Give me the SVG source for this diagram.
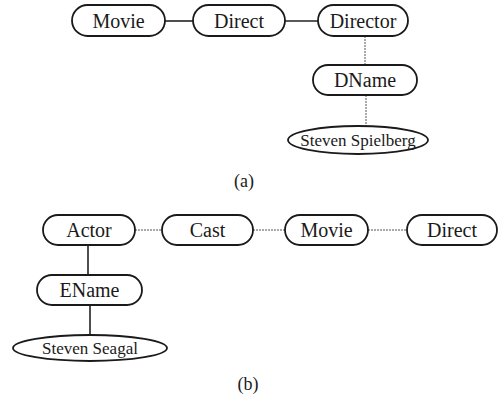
<svg xmlns="http://www.w3.org/2000/svg" width="500" height="395" viewBox="0 0 500 395">
  <style>
    .box { fill: #ffffff; stroke: #1a1a1a; stroke-width: 1.8; }
    text { font-family: 'Liberation Serif', 'Times New Roman', Times, serif; fill: #1a1a1a; text-anchor: middle; }
    .lbl { font-size: 20px; }
    .val { font-size: 17px; }
    .cap { font-size: 18px; }
    .solid { stroke: #222222; stroke-width: 1.6; fill: none; }
    .thin { stroke: #555555; stroke-width: 1; fill: none; stroke-dasharray: 2 1; }
  </style>
  <rect width="500" height="395" fill="#ffffff"/>

  <!-- connectors -->
  <g id="connectors">
    <!-- (a) -->
    <line class="solid" x1="165" y1="21" x2="193" y2="21"/>
    <line class="solid" x1="285" y1="21" x2="318" y2="21"/>
    <line class="thin" x1="365" y1="36" x2="365" y2="65"/>
    <line class="thin" x1="366" y1="95" x2="366" y2="126"/>
    <!-- (b) -->
    <line class="thin" x1="135" y1="230" x2="162" y2="230"/>
    <line class="thin" x1="253" y1="230" x2="285" y2="230"/>
    <line class="thin" x1="368" y1="230" x2="407" y2="230"/>
    <line class="solid" x1="88" y1="245" x2="88" y2="275"/>
    <line class="solid" x1="90" y1="305" x2="90" y2="335"/>
  </g>

  <!-- (a) nodes -->
  <g id="a-movie">
    <rect class="box" x="72" y="5" width="93" height="31" rx="15.5"/>
    <text class="lbl" x="118.5" y="27.5">Movie</text>
  </g>
  <g id="a-direct">
    <rect class="box" x="193" y="5" width="92" height="31" rx="15.5"/>
    <text class="lbl" x="239" y="27.5">Direct</text>
  </g>
  <g id="a-director">
    <rect class="box" x="318" y="5" width="90" height="31" rx="15.5"/>
    <text class="lbl" x="363" y="27.5">Director</text>
  </g>
  <g id="a-dname">
    <rect class="box" x="313" y="65" width="104" height="30" rx="15"/>
    <text class="lbl" x="365" y="87">DName</text>
  </g>
  <g id="a-spielberg">
    <ellipse class="box" cx="358" cy="140" rx="70" ry="14"/>
    <text class="val" x="358" y="145.5">Steven Spielberg</text>
  </g>
  <text class="cap" x="244" y="187">(a)</text>

  <!-- (b) nodes -->
  <g id="b-actor">
    <rect class="box" x="43" y="215" width="92" height="30" rx="15"/>
    <text class="lbl" x="89" y="237">Actor</text>
  </g>
  <g id="b-cast">
    <rect class="box" x="162" y="215" width="91" height="30" rx="15"/>
    <text class="lbl" x="207.5" y="237">Cast</text>
  </g>
  <g id="b-movie">
    <rect class="box" x="285" y="215" width="83" height="30" rx="15"/>
    <text class="lbl" x="326.5" y="237">Movie</text>
  </g>
  <g id="b-direct">
    <rect class="box" x="407" y="215" width="90" height="30" rx="15"/>
    <text class="lbl" x="452" y="237">Direct</text>
  </g>
  <g id="b-ename">
    <rect class="box" x="37" y="275" width="105" height="30" rx="15"/>
    <text class="lbl" x="89.5" y="297">EName</text>
  </g>
  <g id="b-seagal">
    <ellipse class="box" cx="90" cy="348" rx="77" ry="13"/>
    <text class="val" x="90" y="353.5">Steven Seagal</text>
  </g>
  <text class="cap" x="248" y="390">(b)</text>
</svg>
